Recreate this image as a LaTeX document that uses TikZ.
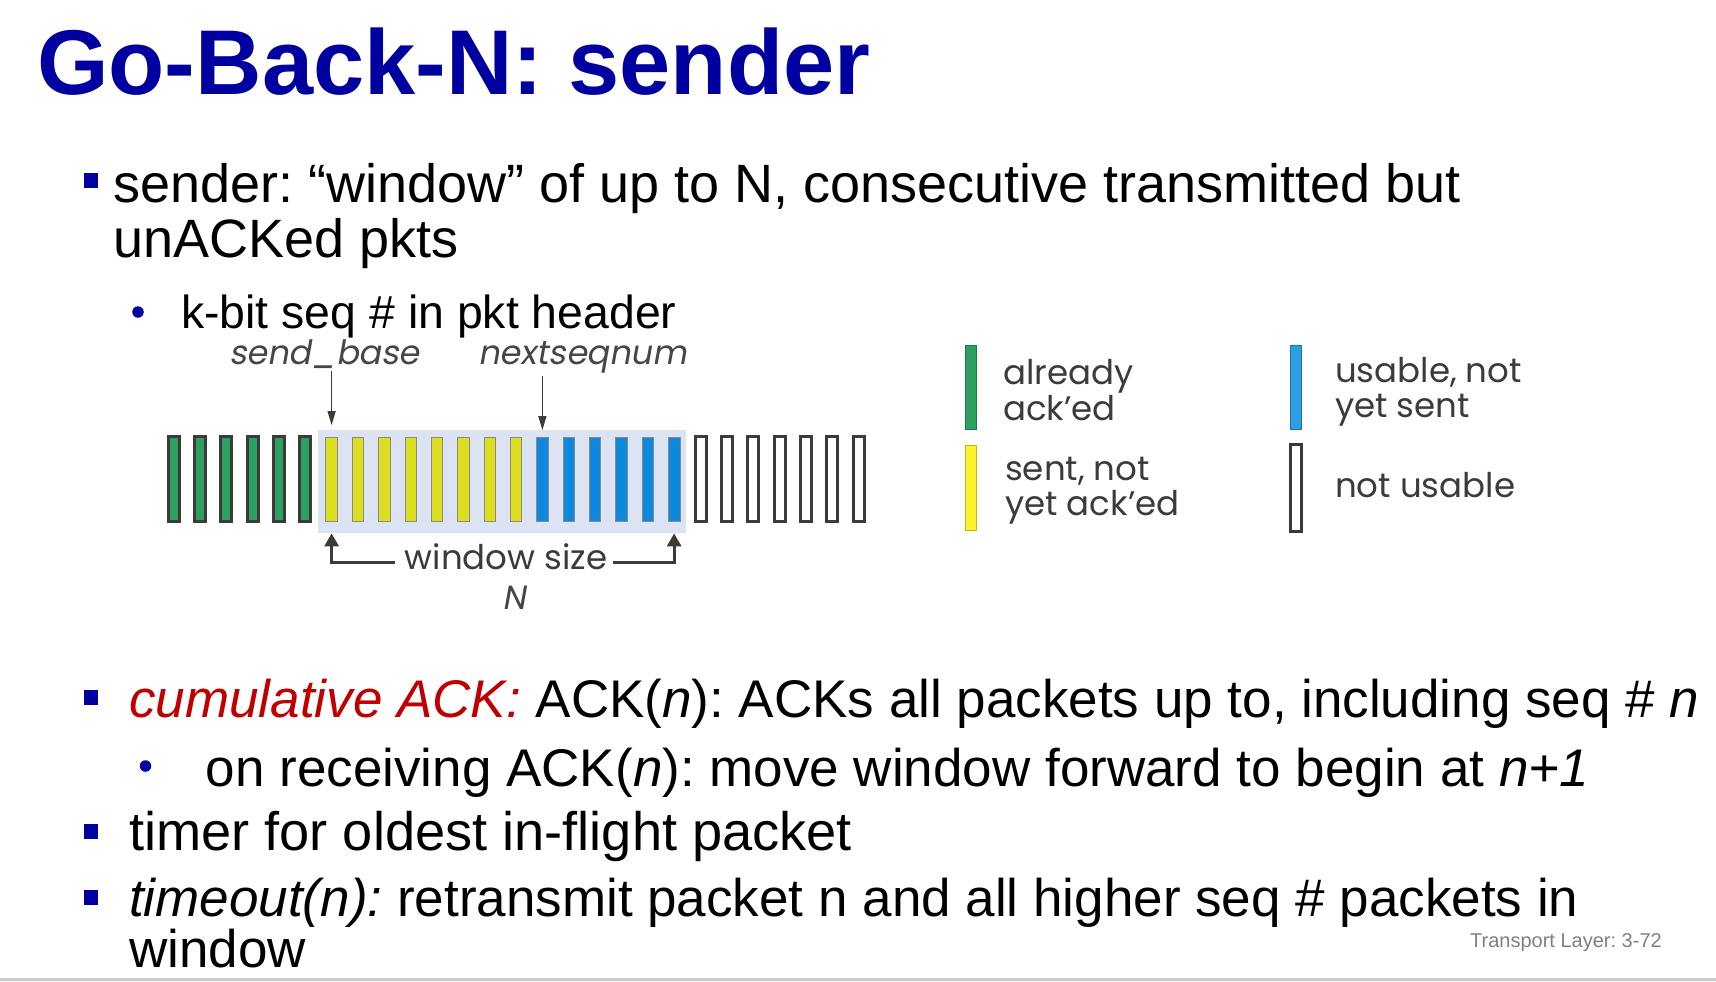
\documentclass[tikz,border=0pt]{standalone}
\usepackage{fontspec}
\setmainfont{Liberation Sans}
\newfontfamily\gfont{Poppins}
\newfontfamily\gfonti{Poppins}[FakeSlant=0.18]
\usetikzlibrary{arrows.meta}
\frenchspacing
\definecolor{tblue}{RGB}{0,0,160}
\definecolor{cred}{RGB}{192,0,0}
\definecolor{pgreen}{RGB}{43,160,96}
\definecolor{pyellow}{RGB}{222,222,32}
\definecolor{pblue}{RGB}{12,136,220}
\definecolor{pdark}{RGB}{62,58,56}
\definecolor{winbg}{RGB}{220,227,242}
\definecolor{lgyellow}{RGB}{255,242,40}
\definecolor{lgblue}{RGB}{42,160,225}
\definecolor{lgtext}{RGB}{62,58,56}
\definecolor{lbl}{RGB}{70,70,70}
\definecolor{footgray}{RGB}{128,128,128}
\begin{document}
\begin{tikzpicture}[x=1pt,y=-1pt,
  pktthick/.style={rectangle, draw=pdark, line width=3pt, minimum width=11pt, minimum height=85pt, inner sep=0pt},
  pktthin/.style={rectangle, draw=pdark!60, line width=0.8pt, minimum width=11.5pt, minimum height=84pt, inner sep=0pt},
  bodya/.style={anchor=base west, inner sep=0pt, font=\fontsize{54}{56}\selectfont},
  bodyb/.style={anchor=base west, inner sep=0pt, font=\fontsize{53}{55}\selectfont},
  bodyc/.style={anchor=base west, inner sep=0pt, font=\fontsize{46.4}{48}\selectfont},
  bsq/.style={rectangle, fill=tblue, minimum width=14pt, minimum height=15pt, inner sep=0pt},
  bdot/.style={circle, fill=tblue, minimum size=11.5pt, inner sep=0pt},
  glab/.style={font=\gfonti\fontsize{33.5}{36}\selectfont, text=lbl, anchor=base west, inner sep=0pt},
  lgtxt/.style={font=\gfont\fontsize{34}{36}\selectfont, text=lgtext, anchor=base west, inner sep=0pt},
  dn/.style={draw=pdark, line width=1.3pt, -{Triangle[length=14pt,width=8pt]}},
  brk/.style={draw=pdark, line width=3pt, -{Triangle[length=13pt,width=14pt]}}
]
\useasboundingbox (0,0) rectangle (1716,982);
\fill[white] (0,0) rectangle (1716,982);

% title
\node[anchor=base west, inner sep=0pt, font=\bfseries\fontsize{92}{100}\selectfont, text=tblue] (title) at (37,95) {Go-Back-N: sender};

% first bullet
\node[bsq] (q1) at (91.3,180.5) {};
\node[bodya] (b1) at (113,202.5) {sender: “window” of up to N, consecutive transmitted but};
\node[bodya] (b1b) at (113,257) {unACKed pkts};
\node[bdot] (d1) at (138,312) {};
\node[bodyc] (b2) at (181,328) {k-bit seq \# in pkt header};

% diagram
\node[rectangle, fill=winbg, minimum width=368pt, minimum height=103pt, inner sep=0pt, anchor=north west] (win) at (318,430) {};
\foreach \i in {0,...,5} \node[pktthick, fill=pgreen] (p\i) at ({173.5+26.35*\i},479) {};
\foreach \i in {6,...,13} \node[pktthin, fill=pyellow] (p\i) at ({173.5+26.35*\i},479) {};
\foreach \i in {14,...,19} \node[pktthin, fill=pblue] (p\i) at ({173.5+26.35*\i},479) {};
\foreach \i in {20,...,26} \node[pktthick, fill=white] (p\i) at ({173.5+26.35*\i},479) {};

\node[glab] (sb) at (229,364.5) {send\_base};
\node[glab] (ns) at (478,364.5) {nextseqnum};
\draw[dn, shorten <=2pt, shorten >=11.5pt] (sb.south -| p6.north) -- (p6.north);
\draw[dn, shorten <=3pt, shorten >=6.5pt] (ns.south -| p14.north) -- (p14.north);

\node[lgtxt, anchor=base] (ws) at (506,569) {window size};
\node[glab, anchor=base] (nN) at (514,609.6) {N};
\draw[brk] ([xshift=-10pt,yshift=7pt]ws.base west) -| (win.south -| p6.center);
\draw[brk] ([xshift=6pt,yshift=7pt]ws.base east) -| (win.south -| p19.center);

% legend
\node[rectangle, fill=pgreen, draw=pgreen!75!black, line width=0.6pt, minimum width=11pt, minimum height=84pt, inner sep=0pt] (lg1) at (971,387) {};
\node[rectangle, fill=lgyellow, draw=lgyellow!75!black, line width=0.6pt, minimum width=11pt, minimum height=85pt, inner sep=0pt] (lg2) at (971,488) {};
\node[rectangle, fill=lgblue, draw=lgblue!75!black, line width=0.6pt, minimum width=11.5pt, minimum height=84pt, inner sep=0pt] (lg3) at (1296,387) {};
\node[pktthick, fill=white, minimum height=87pt] (lg4) at (1296,488) {};

\node[lgtxt] (lt1a) at (1003,384) {already};
\node[lgtxt] (lt1b) at (1003,420) {ack’ed};
\node[lgtxt] (lt2a) at (1005,480.5) {sent, not};
\node[lgtxt] (lt2b) at (1005,515.5) {yet ack’ed};
\node[lgtxt] (lt3a) at (1335,382) {usable, not};
\node[lgtxt] (lt3b) at (1335,417) {yet sent};
\node[lgtxt] (lt4) at (1335,497) {not usable};

% lower bullets
\node[bsq] (q2) at (91.3,697.8) {};
\node[bodyb] (b3) at (129,717) {\textit{\color{cred}cumulative ACK:} ACK(\textit{n}): ACKs all packets up to, including seq \# \textit{n}};
\node[bdot] (d2) at (145.5,766) {};
\node[bodyb] (b4) at (205.7,786) {on receiving ACK(\textit{n}): move window forward to begin at \textit{n+1}};
\node[bsq] (q3) at (91.3,831) {};
\node[bodyb, font=\fontsize{54.2}{56}\selectfont] (b5) at (129,850) {timer for oldest in-flight packet};
\node[bsq] (q4) at (91.3,897.5) {};
\node[bodyb] (b6) at (129,916) {\textit{timeout(n):} retransmit packet n and all higher seq \# packets in};
\node[bodyb] (b6b) at (129,967.5) {window};

% footer
\node[anchor=base west, inner sep=0pt, font=\fontsize{20}{22}\selectfont, text=footgray] (foot) at (1470,947) {Transport Layer: 3-72};
\fill[black!20] (0,977.5) rectangle (1716,980.5);
\fill[black!5] (0,980.5) rectangle (1716,982);
\end{tikzpicture}
\end{document}
